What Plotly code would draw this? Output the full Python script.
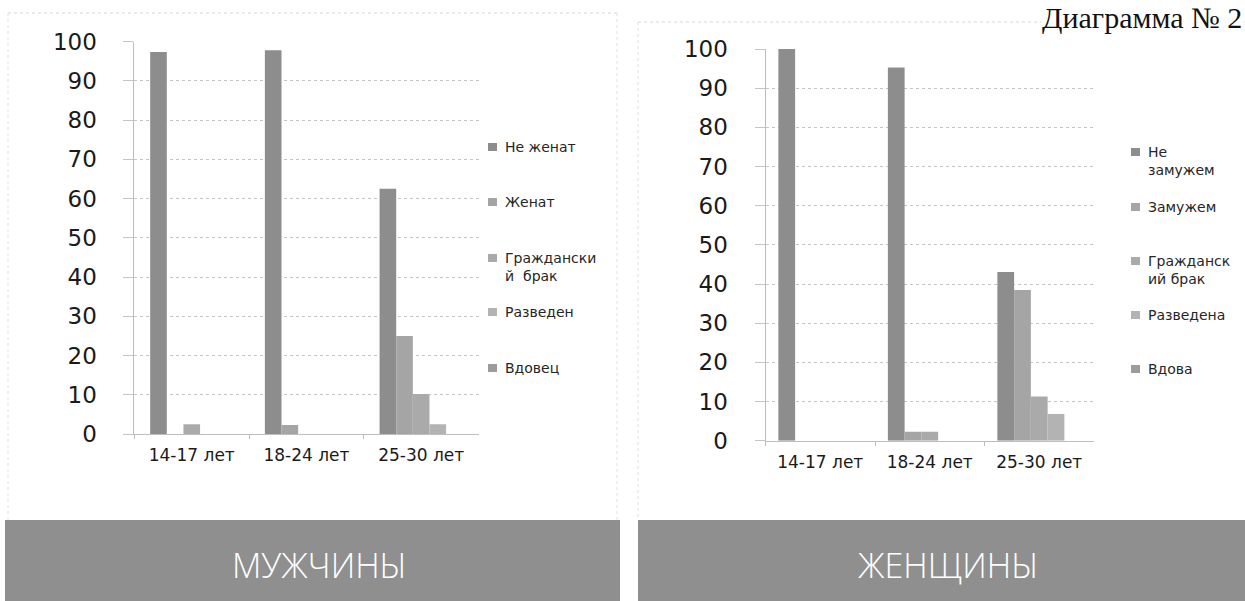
import plotly.graph_objects as go

W, H = 1245, 601

# ---------------- data ----------------
categories = ["14-17 лет", "18-24 лет", "25-30 лет"]

men_series = ["Не женат", "Женат", "Гражданский брак", "Разведен", "Вдовец"]
men_legend_labels = ["Не женат", "Женат", "Граждански<br>й  брак", "Разведен", "Вдовец"]
men_ne_zhenat = [97.4, 97.8, 62.5]
men_zhenat = [0, 2.3, 25.0]
men_grazhd = [2.5, 0, 10.2]
men_razveden = [0, 0, 2.5]
men_vdovec = [0, 0, 0]

women_series = ["Не замужем", "Замужем", "Гражданский брак", "Разведена", "Вдова"]
women_legend_labels = ["Не<br>замужем", "Замужем", "Гражданск<br>ий брак", "Разведена", "Вдова"]
women_ne_zam = [100, 95.3, 43.1]
women_zam = [0, 2.3, 38.5]
women_grazhd = [0, 2.3, 11.3]
women_razv = [0, 0, 6.8]
women_vdova = [0, 0, 0]

y_tick_values = [0, 10, 20, 30, 40, 50, 60, 70, 80, 90, 100]
panel_titles = ["МУЖЧИНЫ", "ЖЕНЩИНЫ"]
doc_title = "Диаграмма № 2"

# ---------------- style ----------------
series_colors = ["#8d8d8d", "#a5a5a5", "#aaaaaa", "#b3b3b3", "#9c9c9c"]
grid_color = "#c4c4c4"
axis_color = "#bdbdbd"
banner_color = "#8f8f8f"
chart_font = "DejaVu Sans"


def fx(px):
    return px / W


def fy(py):
    return 1 - py / H


men_values = [men_ne_zhenat, men_zhenat, men_grazhd, men_razveden, men_vdovec]
women_values = [women_ne_zam, women_zam, women_grazhd, women_razv, women_vdova]

fig = go.Figure()

bar_w_left = 0.145
bar_w_right = 0.153
for i, (name, vals) in enumerate(zip(men_series, men_values)):
    fig.add_trace(go.Bar(
        x=categories, y=vals, name=name, xaxis="x", yaxis="y",
        marker=dict(color=series_colors[i], line=dict(width=0)),
        width=bar_w_left, offset=-2.5 * bar_w_left + i * bar_w_left,
        showlegend=False,
    ))
for i, (name, vals) in enumerate(zip(women_series, women_values)):
    fig.add_trace(go.Bar(
        x=categories, y=vals, name=name, xaxis="x2", yaxis="y2",
        marker=dict(color=series_colors[i], line=dict(width=0)),
        width=bar_w_right, offset=-2.5 * bar_w_right + i * bar_w_right,
        showlegend=False,
    ))

xcommon = dict(
    type="category", range=[-0.5, 2.5], tickson="boundaries",
    ticks="outside", ticklen=4, tickcolor=axis_color,
    showline=True, linecolor=axis_color, linewidth=1,
    showgrid=False, zeroline=False, automargin=False,
    tickfont=dict(family=chart_font, size=17, color="#1a1a1a"),
    ticklabelstandoff=6,
)
ycommon = dict(
    range=[0, 100], tickvals=y_tick_values,
    ticks="outside", ticklen=10, tickcolor=grid_color,
    showline=True, linecolor=axis_color, linewidth=1,
    showgrid=True, gridcolor=grid_color, griddash="dot", gridwidth=1,
    zeroline=False, automargin=False,
    tickfont=dict(family=chart_font, size=23, color="#1a1a1a"),
    ticklabelstandoff=22,
)

fig.update_layout(
    width=W, height=H, autosize=False,
    margin=dict(l=0, r=0, t=0, b=0, pad=0),
    paper_bgcolor="white", plot_bgcolor="rgba(0,0,0,0)",
    barmode="group",
    xaxis=dict(domain=[fx(134.4), fx(478.5)], anchor="y", **xcommon),
    yaxis=dict(domain=[fy(434), fy(41.7)], anchor="x", **ycommon),
    xaxis2=dict(domain=[fx(765.5), fx(1094)], anchor="y2", **xcommon),
    yaxis2=dict(domain=[fy(440.7), fy(49)], anchor="x2", **ycommon),
)

shapes = []
annotations = []

# panel frames (faint)
for (x0, x1, y0) in [(8, 618, 13), (638, 1245, 22)]:
    shapes.append(dict(type="line", xref="paper", yref="paper",
                       x0=fx(x0), x1=fx(x1), y0=fy(y0), y1=fy(y0),
                       line=dict(color="#d6d6d6", width=1, dash="dot")))
    shapes.append(dict(type="line", xref="paper", yref="paper",
                       x0=fx(x0), x1=fx(x0), y0=fy(y0), y1=fy(520),
                       line=dict(color="#e0e0e0", width=1, dash="dot")))
shapes.append(dict(type="line", xref="paper", yref="paper",
                   x0=fx(617), x1=fx(617), y0=fy(13), y1=fy(520),
                   line=dict(color="#e0e0e0", width=1, dash="dot")))

# banners
for (x0, x1), label, cx in zip([(5, 620), (638, 1245)], panel_titles, [320, 948]):
    shapes.append(dict(type="rect", xref="paper", yref="paper",
                       x0=fx(x0), x1=fx(x1), y0=fy(601), y1=fy(520),
                       fillcolor=banner_color, line=dict(width=0), layer="below"))
    annotations.append(dict(text=label, xref="paper", yref="paper",
                            x=fx(cx), y=fy(565), xanchor="center", yanchor="middle",
                            showarrow=False,
                            font=dict(family="Open Sans", size=34, weight=300,
                                      color="white")))

# custom legends
legend_specs = [
    (men_legend_labels, 488, 503, [147, 202, 258, 312, 368]),
    (women_legend_labels, 1131, 1146, [152, 207, 261, 315, 369]),
]
for labels, mx, tx, ys in legend_specs:
    for i, (lab, yy) in enumerate(zip(labels, ys)):
        shapes.append(dict(type="rect", xref="paper", yref="paper",
                           x0=fx(mx), x1=fx(mx + 9), y0=fy(yy + 4), y1=fy(yy - 4),
                           fillcolor=series_colors[i], line=dict(width=0)))
        annotations.append(dict(text=lab, xref="paper", yref="paper",
                                x=fx(tx), y=fy(yy - 10), xanchor="left", yanchor="top",
                                align="left", showarrow=False,
                                font=dict(family=chart_font, size=14, color="#262626")))

# document title (top-right corner)
annotations.append(dict(text=doc_title, xref="paper", yref="paper",
                        x=fx(1243), y=1, xanchor="right", yanchor="top",
                        showarrow=False, borderpad=0, bgcolor="white",
                        font=dict(family="Liberation Serif", size=30, color="#111111")))

fig.update_layout(shapes=shapes, annotations=annotations)

fig.write_html(
    "out.html",
    config={"displayModeBar": False, "responsive": False},
    post_script="document.body.style.margin='0';document.body.style.overflow='hidden';",
)
